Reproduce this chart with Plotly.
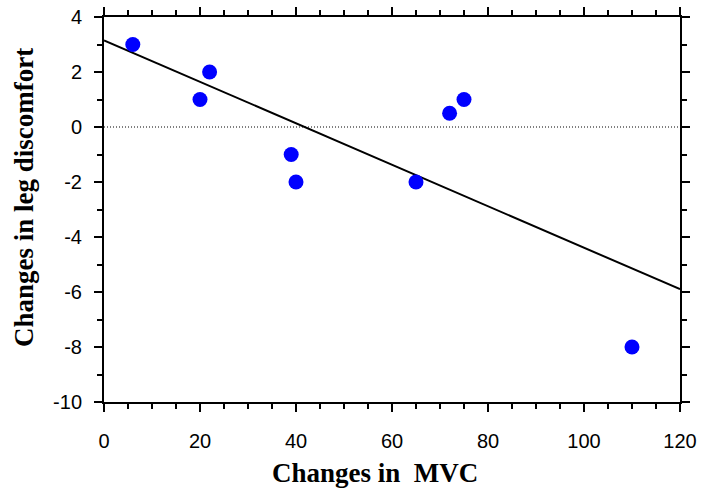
import numpy as np
import plotly.graph_objects as go

# Change in MVC vs change in leg discomfort
mvc_change = [6, 20, 22, 39, 40, 65, 72, 75, 110]
discomfort_change = [3, 1, 2, -1, -2, -2, 0.5, 1, -8]

x_range = [0, 120]
y_range = [-10, 4]
x_ticks = [0, 20, 40, 60, 80, 100, 120]
y_ticks = [-10, -8, -6, -4, -2, 0, 2, 4]

# Least-squares fit line
slope, intercept = np.polyfit(mvc_change, discomfort_change, 1)
fit_x = np.array(x_range, dtype=float)
fit_y = slope * fit_x + intercept

fig = go.Figure()

# zero reference line
fig.add_trace(go.Scatter(
    x=x_range, y=[0, 0], mode="lines",
    line=dict(color="black", width=1, dash="1px,2px"),
    showlegend=False, hoverinfo="skip",
))

fig.add_trace(go.Scatter(
    x=fit_x, y=fit_y, mode="lines",
    line=dict(color="black", width=2),
    showlegend=False,
))

fig.add_trace(go.Scatter(
    x=mvc_change, y=discomfort_change, mode="markers",
    marker=dict(color="#0000FF", size=15, line=dict(width=0)),
    showlegend=False,
))

tick_font = dict(family="Liberation Sans, Arial, sans-serif", size=20, color="black")
title_font = dict(family="Liberation Serif, Times New Roman, serif", size=27, color="black")

axis_common = dict(
    showgrid=False, zeroline=False, automargin=False,
    showline=True, linecolor="black", linewidth=2,
    mirror="allticks",
    ticks="outside", ticklen=8, tickwidth=2, tickcolor="black",
    tickfont=tick_font,
)

fig.update_xaxes(
    range=x_range, tickvals=x_ticks, ticktext=[str(v) for v in x_ticks],
    minor=dict(dtick=5, tick0=0, ticks="outside", ticklen=5, tickwidth=2, tickcolor="black"),
    ticklabelstandoff=12,
    **axis_common,
)
fig.update_yaxes(
    range=y_range, tickvals=y_ticks, ticktext=[str(v) for v in y_ticks],
    minor=dict(dtick=1, tick0=0, ticks="outside", ticklen=5, tickwidth=2, tickcolor="black"),
    ticklabelstandoff=8,
    **axis_common,
)

# axis titles
fig.add_annotation(
    text="<b>Changes in  MVC</b>", xref="paper", yref="paper",
    x=0.4705, y=-0.185, xanchor="center", yanchor="middle",
    showarrow=False, font=title_font,
)
fig.add_annotation(
    text="<b>Changes in leg discomfort</b>", xref="paper", yref="paper",
    x=-0.139, y=0.532, xanchor="center", yanchor="middle", textangle=-90,
    showarrow=False, font=title_font,
)

fig.update_layout(
    width=701, height=495,
    margin=dict(l=104, r=21, t=17, b=93),
    plot_bgcolor="white", paper_bgcolor="white",
)

fig.write_html("out.html")
